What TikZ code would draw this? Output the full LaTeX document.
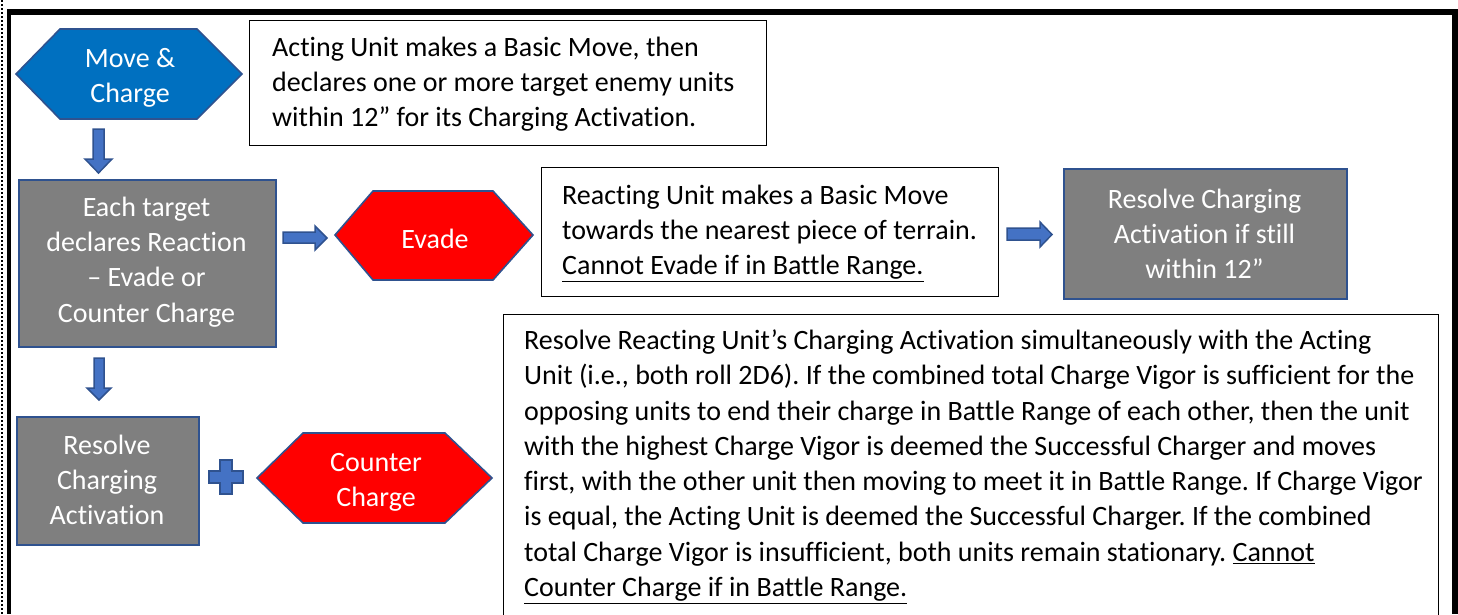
\documentclass[tikz,border=0pt]{standalone}
\usepackage{fontspec}
\setmainfont{Carlito}[Ligatures=NoCommon]
\frenchspacing
\definecolor{blueF}{HTML}{0070C0}
\definecolor{edgeB}{HTML}{2F528F}
\definecolor{grayF}{HTML}{7F7F7F}
\definecolor{redF}{HTML}{FF0000}
\definecolor{arrowF}{HTML}{4472C4}
\begin{document}
\begin{tikzpicture}[x=1pt,y=-1pt,
  txt/.style={font=\fontsize{28}{35.3}\selectfont\frenchspacing, inner sep=0pt},
  wtxt/.style={txt, text=white, align=center},
  graybox/.style={wtxt, draw=edgeB, line width=1.6pt, fill=grayF, inner sep=0pt},
  hexshape/.style={draw=edgeB, line width=1.6pt},
  textbox/.style={draw=black, line width=0.9pt, fill=white},
  blockarrow/.style={fill=arrowF, draw=edgeB, line width=1.5pt, line join=miter}
]
\useasboundingbox (0,0) rectangle (1458,614);
% page frame
\fill[black] (7,9) rectangle (1458,15);
\fill[black] (7,9) rectangle (11,614);
\fill[black] (1452,9) rectangle (1458,614);
\draw[black, line width=2pt, dash pattern=on 2pt off 2pt] (2,0) -- (2,614);

% Move & Charge hexagon
\path[hexshape, fill=blueF] (16,74) -- (60,29) -- (197,29) -- (242,74) -- (197,119) -- (60,119) -- cycle;
\node[wtxt] (move) at (130,78) {Move \&\\Charge};

% text box 1
\node[textbox, minimum width=517pt, minimum height=125pt, anchor=north west] (tb1) at (249,20) {};
\node[txt, align=left, anchor=west] (tb1t) at (272,84) {Acting Unit makes a Basic Move, then\\declares one or more target enemy units\\within 12” for its Charging Activation.};

% down arrow 1
\path[blockarrow] (93,129) -- (104,129) -- (104,159) -- (112,159) -- (98.5,173) -- (85,159) -- (93,159) -- cycle;

% gray box: each target declares
\node[graybox, minimum width=257pt, minimum height=167pt, anchor=north west] (declare) at (18,179) {};
\node[wtxt] (declaret) at (146.5,262) {Each target\\declares Reaction\\– Evade or\\Counter Charge};

% right arrow 1
\path[blockarrow] (283,232) -- (315,232) -- (315,226) -- (327,238) -- (315,250) -- (315,243) -- (283,243) -- cycle;

% Evade hexagon
\path[hexshape, fill=redF] (335,235) -- (373,191) -- (493,191) -- (533,235) -- (493,280) -- (373,280) -- cycle;
\node[wtxt] (evade) at (435,239) {Evade};

% text box 2
\node[textbox, minimum width=457pt, minimum height=129pt, anchor=north west] (tb2) at (541,167) {};
\node[txt, align=left, anchor=west] (tb2t) at (562,233) {Reacting Unit makes a Basic Move\\towards the nearest piece of terrain.\\\underline{Cannot Evade if in Battle Range.}};

% right arrow 2
\path[blockarrow] (1007,228) -- (1040,228) -- (1040,222) -- (1052,234.5) -- (1040,247) -- (1040,240) -- (1007,240) -- cycle;

% gray box: resolve if still within
\node[graybox, minimum width=283pt, minimum height=130pt, anchor=north west] (resolve1) at (1063,168) {};
\node[wtxt] (resolve1t) at (1204.5,234) {Resolve Charging\\Activation if still\\within 12”};

% text box 3
\draw[textbox] (503,314) -- (503,620) (503,314) -- (1438,314) -- (1438,620);
\node[txt, align=left, anchor=west] (tb3t) at (524,466.5) {Resolve Reacting Unit’s Charging Activation simultaneously with the Acting\\Unit (i.e., both roll 2D6). If the combined total Charge Vigor is sufficient for the\\opposing units to end their charge in Battle Range of each other, then the unit\\with the highest Charge Vigor is deemed the Successful Charger and moves\\first, with the other unit then moving to meet it in Battle Range. If Charge Vigor\\is equal, the Acting Unit is deemed the Successful Charger. If the combined\\total Charge Vigor is insufficient, both units remain stationary. \underline{Cannot}\\\underline{Counter Charge if in Battle Range.}};

% down arrow 2
\path[blockarrow] (94,358) -- (104,358) -- (104,388) -- (111,388) -- (99,400) -- (87,388) -- (94,388) -- cycle;

% gray box: resolve charging activation
\node[graybox, minimum width=182pt, minimum height=128pt, anchor=north west] (resolve2) at (16,416) {};
\node[wtxt] (resolve2t) at (107,480) {Resolve\\Charging\\Activation};

% plus sign
\path[blockarrow] (220,460) -- (232,460) -- (232,471) -- (243,471) -- (243,483) -- (232,483) -- (232,494) -- (220,494) -- (220,483) -- (209,483) -- (209,471) -- (220,471) -- cycle;

% Counter Charge hexagon
\path[hexshape, fill=redF] (257,478) -- (303,433) -- (445,433) -- (492,478) -- (445,523) -- (303,523) -- cycle;
\node[wtxt] (counter) at (376,482) {Counter\\Charge};
\end{tikzpicture}
\end{document}
